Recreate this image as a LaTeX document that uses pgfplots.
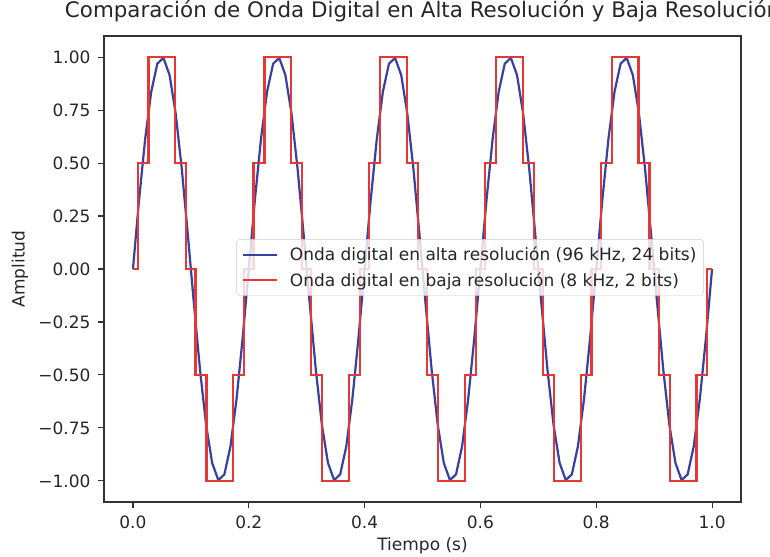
\documentclass[border=0pt]{standalone}
\usepackage{pgfplots}
\pgfplotsset{compat=1.18}
\usepackage{pgfplotstable}
\usepackage{fontspec}
\setmainfont{DejaVu Sans}
\newcommand\tfont{\fontsize{17bp}{20bp}\selectfont}
\newcommand\ttlfont{\fontsize{21.4bp}{25bp}\selectfont}
\definecolor{hiblue}{RGB}{55,65,160}
\definecolor{lored}{RGB}{230,55,55}

\pgfplotstableread{
t a
0.0000 0
0.0105 0.3247
0.0211 0.6142
0.0316 0.8372
0.0421 0.9694
0.0526 0.9966
0.0632 0.9158
0.0737 0.7357
0.0842 0.4759
0.0947 0.1646
0.1053 -0.1646
0.1158 -0.4759
0.1263 -0.7357
0.1368 -0.9158
0.1474 -0.9966
0.1579 -0.9694
0.1684 -0.8372
0.1789 -0.6142
0.1895 -0.3247
0.2000 0
0.2105 0.3247
0.2211 0.6142
0.2316 0.8372
0.2421 0.9694
0.2526 0.9966
0.2632 0.9158
0.2737 0.7357
0.2842 0.4759
0.2947 0.1646
0.3053 -0.1646
0.3158 -0.4759
0.3263 -0.7357
0.3368 -0.9158
0.3474 -0.9966
0.3579 -0.9694
0.3684 -0.8372
0.3789 -0.6142
0.3895 -0.3247
0.4000 0
0.4105 0.3247
0.4211 0.6142
0.4316 0.8372
0.4421 0.9694
0.4526 0.9966
0.4632 0.9158
0.4737 0.7357
0.4842 0.4759
0.4947 0.1646
0.5053 -0.1646
0.5158 -0.4759
0.5263 -0.7357
0.5368 -0.9158
0.5474 -0.9966
0.5579 -0.9694
0.5684 -0.8372
0.5789 -0.6142
0.5895 -0.3247
0.6000 0
0.6105 0.3247
0.6211 0.6142
0.6316 0.8372
0.6421 0.9694
0.6526 0.9966
0.6632 0.9158
0.6737 0.7357
0.6842 0.4759
0.6947 0.1646
0.7053 -0.1646
0.7158 -0.4759
0.7263 -0.7357
0.7368 -0.9158
0.7474 -0.9966
0.7579 -0.9694
0.7684 -0.8372
0.7789 -0.6142
0.7895 -0.3247
0.8000 0
0.8105 0.3247
0.8211 0.6142
0.8316 0.8372
0.8421 0.9694
0.8526 0.9966
0.8632 0.9158
0.8737 0.7357
0.8842 0.4759
0.8947 0.1646
0.9053 -0.1646
0.9158 -0.4759
0.9263 -0.7357
0.9368 -0.9158
0.9474 -0.9966
0.9579 -0.9694
0.9684 -0.8372
0.9789 -0.6142
0.9895 -0.3247
1.0000 0
}\highres

\pgfplotstableread{
t q
0.00000 0
0.00804 0
0.00804 0.5
0.02699 0.5
0.02699 1
0.07301 1
0.07301 0.5
0.09196 0.5
0.09196 0
0.10804 0
0.10804 -0.5
0.12699 -0.5
0.12699 -1
0.17301 -1
0.17301 -0.5
0.19196 -0.5
0.19196 0
0.20804 0
0.20804 0.5
0.22699 0.5
0.22699 1
0.27301 1
0.27301 0.5
0.29196 0.5
0.29196 0
0.30804 0
0.30804 -0.5
0.32699 -0.5
0.32699 -1
0.37301 -1
0.37301 -0.5
0.39196 -0.5
0.39196 0
0.40804 0
0.40804 0.5
0.42699 0.5
0.42699 1
0.47301 1
0.47301 0.5
0.49196 0.5
0.49196 0
0.50804 0
0.50804 -0.5
0.52699 -0.5
0.52699 -1
0.57301 -1
0.57301 -0.5
0.59196 -0.5
0.59196 0
0.60804 0
0.60804 0.5
0.62699 0.5
0.62699 1
0.67301 1
0.67301 0.5
0.69196 0.5
0.69196 0
0.70804 0
0.70804 -0.5
0.72699 -0.5
0.72699 -1
0.77301 -1
0.77301 -0.5
0.79196 -0.5
0.79196 0
0.80804 0
0.80804 0.5
0.82699 0.5
0.82699 1
0.87301 1
0.87301 0.5
0.89196 0.5
0.89196 0
0.90804 0
0.90804 -0.5
0.92699 -0.5
0.92699 -1
0.97301 -1
0.97301 -0.5
0.99196 -0.5
0.99196 0
1.00000 0
}\lowres

\begin{document}
\begin{tikzpicture}
\begin{axis}[
  at={(0,0)}, anchor=south west,
  scale only axis, width=637bp, height=466bp,
  xmin=-0.05, xmax=1.05, ymin=-1.1, ymax=1.1,
  xtick={0,0.2,0.4,0.6,0.8,1.0},
  xticklabels={0.0,0.2,0.4,0.6,0.8,1.0},
  ytick={-1,-0.75,-0.5,-0.25,0,0.25,0.5,0.75,1},
  yticklabels={−1.00,−0.75,−0.50,−0.25,0.00,0.25,0.50,0.75,1.00},
  tick align=outside, major tick length=6bp,
  tick style={black!80, line width=1.1bp},
  axis line style={black!80, line width=1.1bp},
  xtick pos=bottom, ytick pos=left,
  ticklabel style={font=\tfont, text=black!85},
  xticklabel style={yshift=-4bp},
  yticklabel style={xshift=-4bp},
  title={Comparación de Onda Digital en Alta Resolución y Baja Resolución},
  title style={font=\ttlfont, text=black!85, at={(axis description cs:0.5,1)}, anchor=base, yshift=13bp},
  xlabel={Tiempo (s)},
  ylabel={Amplitud},
  xlabel style={font=\tfont, text=black!85, at={(axis description cs:0.5,0)}, anchor=center, yshift=-44bp},
  ylabel style={font=\tfont, text=black!85, at={(axis description cs:-0.132,0.5)}, anchor=center},
  legend style={at={(axis description cs:0.208,0.564)}, anchor=north west,
    draw=black!20, rounded corners=3bp, fill=white, fill opacity=0.8, text opacity=1,
    font=\tfont, text=black!85, inner xsep=5bp, inner ysep=6bp, row sep=6bp},
  legend cell align=left,
  legend image code/.code={\draw[#1] (0bp,0bp) -- (34bp,0bp); \path (44bp,0bp);},
  clip=true,
]
\addplot[hiblue, line width=2.2bp] table[x=t, y=a] {\highres};
\addlegendentry{Onda digital en alta resolución (96 kHz, 24 bits)}
\addplot[lored, line width=2.2bp, line join=miter] table[x=t, y=q] {\lowres};
\addlegendentry{Onda digital en baja resolución (8 kHz, 2 bits)}
\end{axis}
\pgfresetboundingbox
\useasboundingbox (-104bp,-55bp) rectangle (666bp,502bp);
\end{tikzpicture}
\end{document}
